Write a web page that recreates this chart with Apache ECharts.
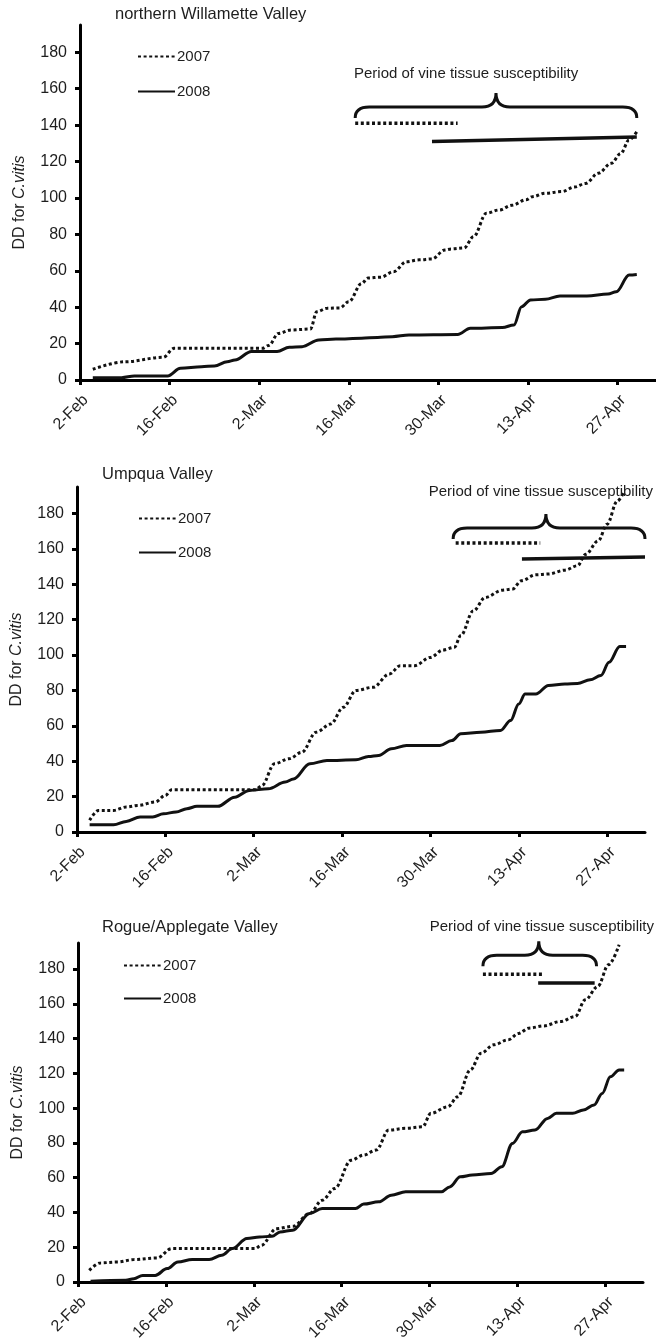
<!DOCTYPE html>
<html>
<head>
<meta charset="utf-8">
<script src="https://cdn.jsdelivr.net/npm/echarts@6/dist/echarts.min.js"></script>
<style>
html, body { margin: 0; padding: 0; background: #fff; }
#chart { width: 656px; height: 1344px; }
</style>
</head>
<body>
<div id="chart"></div>
<script>
// x axis = days after 2-Feb
var xTickDays = [0, 14, 28, 42, 56, 70, 84];
var xTickLabels = ['2-Feb', '16-Feb', '2-Mar', '16-Mar', '30-Mar', '13-Apr', '27-Apr'];
var yTicks = [0, 20, 40, 60, 80, 100, 120, 140, 160, 180];
var years = ['2007', '2008'];
var panelTitles = ['northern Willamette Valley', 'Umpqua Valley', 'Rogue/Applegate Valley'];
var periodText = 'Period of vine tissue susceptibility';

// northern Willamette Valley
var willDays07 = [2, 7, 13, 14.7, 28.5, 29.5, 31, 33, 36, 37, 38.6, 40.6, 42, 44, 45, 47, 49, 51, 53, 55, 57, 58, 60, 61.5, 63.5, 65.5, 67.5, 69.7, 70.7, 72.7, 75.3, 77.3, 79, 81, 83, 84.5, 85.8, 87];
var willDD07 = [5.9, 10, 12.5, 17.4, 17.4, 19, 25.6, 27.5, 28, 37.5, 39.4, 39.6, 43, 53, 56, 56.5, 59.5, 65, 66, 66.5, 71.4, 72, 72.5, 78.8, 91.6, 93.4, 96, 99, 100.7, 102.6, 103.5, 106, 108, 113.6, 119, 124.5, 131.9, 136.4];
var willDays08 = [2, 6.5, 8.5, 13.7, 15.7, 19, 21, 23, 24.2, 26.8, 30.8, 32.7, 34.7, 37.3, 40, 44, 46.5, 48.8, 51.4, 59, 61, 66, 67.8, 69, 70.4, 72.7, 75, 79.2, 82.5, 83.8, 85.8, 87];
var willDD08 = [1.3, 1.3, 2.2, 2.2, 6.4, 7.3, 7.7, 10, 11, 15.6, 15.6, 18, 18.3, 22, 22.5, 22.9, 23.4, 23.8, 24.7, 25, 28.4, 28.8, 30.2, 40.3, 44, 44.3, 46.2, 46.2, 47.3, 48.5, 57.7, 58];

// Umpqua Valley
var umpDays07 = [2, 3.4, 5.8, 7.8, 9.7, 12.4, 14, 15, 28.3, 29.3, 31.3, 33.6, 35.6, 37.9, 40.2, 42.2, 44.2, 46.9, 49.5, 51.2, 53.5, 56, 58, 59.8, 60.8, 62.8, 64.7, 67.4, 69, 70.4, 72.7, 74.7, 77.3, 79.3, 80.6, 82.6, 84, 85.6, 86.6];
var umpDD07 = [6.6, 12.2, 12.2, 14.1, 15, 17, 20.7, 23.9, 23.9, 26.3, 38.6, 41.4, 45, 56.4, 61, 70.5, 80, 81.8, 89.3, 94, 94, 98.7, 102.9, 104.4, 111, 125, 132.6, 136.7, 137.3, 142, 145.4, 145.8, 148, 150.5, 157, 164.6, 174, 187, 191.8];
var umpDays08 = [2, 5.8, 7.8, 10, 12, 13.7, 15.7, 17.4, 19, 22.3, 25, 27.3, 30.3, 33, 34.3, 36.9, 39.6, 44.2, 46.2, 47.8, 49.8, 52.2, 57.5, 59.4, 60.8, 64, 67.1, 68.7, 70, 71, 72.7, 74.7, 77.3, 79.3, 81.3, 83, 84.3, 86, 87];
var umpDD08 = [4.1, 4.1, 6, 8.5, 8.5, 10.3, 11.3, 13.2, 14.5, 14.5, 19.7, 23.5, 24.4, 28.2, 30, 38.6, 40.4, 40.8, 42.7, 43.3, 47, 48.9, 48.9, 51.7, 55.5, 56.4, 57.4, 63, 72.4, 78, 78, 82.8, 83.7, 84, 86, 88.4, 95.9, 104.8, 104.8];

// Rogue/Applegate Valley
var rogDays07 = [1.8, 3.6, 6.3, 8.9, 12.6, 14.9, 28.2, 29.2, 31.6, 34.2, 36.9, 38.9, 40.9, 43.5, 45.5, 47.5, 49.5, 52.2, 54.9, 56.2, 58.9, 60.5, 62.5, 64.2, 66.2, 68.5, 70.2, 71.8, 74.2, 76.8, 79.2, 80.8, 82.8, 84.5, 86.2];
var rogDD07 = [6.7, 11, 11.5, 12.9, 13.8, 19.2, 19.2, 21.1, 30.7, 32, 39.4, 47, 53.8, 70, 73, 75.9, 87.4, 88.4, 89.3, 97, 100.8, 106.6, 122, 131.6, 136.4, 139.3, 143, 146, 147.3, 149.8, 152.7, 162.3, 170, 182.5, 194];
var rogDays08 = [2, 7.6, 8.9, 10.3, 12.3, 14.2, 15.9, 18.2, 20.9, 22.9, 24.6, 26.9, 28.9, 30.9, 32.2, 34.2, 36.9, 38.9, 44.2, 45.5, 47.9, 49.9, 52.2, 57.9, 59.2, 60.9, 62.8, 65.8, 67.5, 69.2, 70.8, 72.8, 74.8, 76.2, 78.8, 80.5, 82.2, 83.5, 84.8, 86.2, 87];
var rogDD08 = [0.5, 1, 1.9, 3.8, 3.8, 7.7, 11.5, 12.9, 12.9, 15.4, 19.2, 25, 25.9, 26.3, 28.8, 29.8, 39.4, 42.3, 42.3, 44.8, 46.1, 49.9, 51.9, 51.9, 54.7, 60.5, 61.5, 62.4, 66.3, 79.7, 86.4, 87.4, 94.1, 97, 97, 98.9, 101.8, 108.5, 118, 122, 122];

// susceptibility periods: [startDay, startDD, endDay, endDD]
var willPeriod07 = [43, 141, 59, 141];
var willPeriod08 = [55, 131, 87, 133.5];
var umpPeriod07 = [60, 163.4, 73.4, 163.4];
var umpPeriod08 = [70.5, 154.3, 90, 155.5];
var rogPeriod07 = [64.5, 177, 74, 177];
var rogPeriod08 = [73.3, 172, 82.3, 172];
// braces: [startDay, endDay, tipDay, DD]
var willBrace = [43, 87, 65, 150];
var umpBrace = [59.6, 90, 74.3, 171.8];
var rogBrace = [64.5, 82.6, 73.4, 188];

var panels = [
    { d07: willDays07, v07: willDD07, d08: willDays08, v08: willDD08, p07: willPeriod07, p08: willPeriod08, brace: willBrace },
    { d07: umpDays07, v07: umpDD07, d08: umpDays08, v08: umpDD08, p07: umpPeriod07, p08: umpPeriod08, brace: umpBrace },
    { d07: rogDays07, v07: rogDD07, d08: rogDays08, v08: rogDD08, p07: rogPeriod07, p08: rogPeriod08, brace: rogBrace }
];

// layout
var grids = [
    { left: 80, top: 25, width: 576, height: 355 },
    { left: 77, top: 487, width: 568, height: 345 },
    { left: 78, top: 943, width: 565, height: 339 }
];
var titlePos = [[115, 6], [102, 466], [102, 919]];
var periodPos = [{ left: 354, top: 66 }, { right: 3, top: 484 }, { right: 2, top: 919 }];
var legendPos = [[137, 49, 20], [138, 511, 19], [123, 958, 18]];

var textColor = '#1e1e1e';
var font = 'Liberation Sans, Arial';
var dotted = [3, 2.6];

function zip(xs, ys) {
    return xs.map(function (x, i) { return [x, ys[i]]; });
}

function braceItem(params, api) {
    var p0 = api.coord([api.value(0), api.value(3)]);
    var p1 = api.coord([api.value(1), api.value(3)]);
    var pt = api.coord([api.value(2), api.value(3)]);
    var y = p0[1], r = 14, hEnd = 11, hTip = 14;
    var d = 'M' + p0[0] + ' ' + (y + hEnd) +
        ' Q' + p0[0] + ' ' + y + ' ' + (p0[0] + r) + ' ' + y +
        ' L' + (pt[0] - r) + ' ' + y +
        ' Q' + pt[0] + ' ' + y + ' ' + pt[0] + ' ' + (y - hTip) +
        ' Q' + pt[0] + ' ' + y + ' ' + (pt[0] + r) + ' ' + y +
        ' L' + (p1[0] - r) + ' ' + y +
        ' Q' + p1[0] + ' ' + y + ' ' + p1[0] + ' ' + (y + hEnd);
    return {
        type: 'path',
        shape: { pathData: d },
        style: { fill: 'none', stroke: '#111', lineWidth: 3 }
    };
}

var titles = [], legends = [], xAxes = [], yAxes = [], series = [];
panels.forEach(function (p, i) {
    titles.push({
        text: panelTitles[i], left: titlePos[i][0], top: titlePos[i][1], padding: 0,
        textStyle: { fontSize: 16.5, fontWeight: 'normal', color: textColor, fontFamily: font }
    });
    titles.push(Object.assign({
        text: periodText, padding: 0,
        textStyle: { fontSize: 15, fontWeight: 'normal', color: textColor, fontFamily: font }
    }, periodPos[i]));
    legends.push({
        data: years, orient: 'vertical', left: legendPos[i][0], top: legendPos[i][1],
        itemGap: legendPos[i][2], itemWidth: 37, itemHeight: 14, padding: 0, selectedMode: false,
        itemStyle: { opacity: 0 },
        textStyle: { fontSize: 15, color: textColor, fontFamily: font, padding: [0, 0, 0, -3] }
    });
    xAxes.push({
        type: 'value', gridIndex: i, min: 0, max: 90,
        axisLine: { lineStyle: { color: '#000', width: 3 } },
        axisTick: { customValues: xTickDays, length: 5, lineStyle: { color: '#000', width: 3 } },
        axisLabel: {
            customValues: xTickDays, rotate: 45, margin: 12, verticalAlign: 'top',
            fontSize: 16, color: textColor, fontFamily: font,
            formatter: function (v) { return xTickLabels[xTickDays.indexOf(v)] || ''; }
        },
        splitLine: { show: false }
    });
    yAxes.push({
        type: 'value', gridIndex: i, min: 0, max: 195,
        name: 'DD for {i|C.vitis}', nameLocation: 'middle', nameGap: 52,
        nameTextStyle: {
            fontSize: 16, color: textColor, fontFamily: font,
            rich: { i: { fontSize: 16, fontStyle: 'italic', color: textColor, fontFamily: font } }
        },
        axisLine: { show: true, lineStyle: { color: '#000', width: 3 } },
        axisTick: { show: true, customValues: yTicks, length: 5, lineStyle: { color: '#000', width: 3 } },
        axisLabel: { customValues: yTicks, margin: 13, fontSize: 16, color: textColor, fontFamily: font },
        splitLine: { show: false }
    });
    series.push({
        name: '2007', type: 'line', xAxisIndex: i, yAxisIndex: i, data: zip(p.d07, p.v07),
        showSymbol: false, symbol: 'none', smooth: 0.35, smoothMonotone: 'x',
        lineStyle: { color: '#111', width: 3, type: dotted }, itemStyle: { color: '#111' }
    });
    series.push({
        name: '2008', type: 'line', xAxisIndex: i, yAxisIndex: i, data: zip(p.d08, p.v08),
        showSymbol: false, symbol: 'none', smooth: 0.35, smoothMonotone: 'x',
        lineStyle: { color: '#111', width: 3, type: 'solid' }, itemStyle: { color: '#111' }
    });
    series.push({
        name: 'period 2007', type: 'line', xAxisIndex: i, yAxisIndex: i, symbol: 'none',
        data: [[p.p07[0], p.p07[1]], [p.p07[2], p.p07[3]]],
        lineStyle: { color: '#111', width: 3.5, type: dotted }
    });
    series.push({
        name: 'period 2008', type: 'line', xAxisIndex: i, yAxisIndex: i, symbol: 'none',
        data: [[p.p08[0], p.p08[1]], [p.p08[2], p.p08[3]]],
        lineStyle: { color: '#111', width: 3.5 }
    });
    series.push({
        name: 'brace', type: 'custom', xAxisIndex: i, yAxisIndex: i, clip: false,
        renderItem: braceItem, encode: { x: [0, 1, 2], y: 3 },
        data: [p.brace]
    });
});

var chart = echarts.init(document.getElementById('chart'), null, { renderer: 'canvas' });
chart.setOption({
    animation: false,
    backgroundColor: '#fff',
    title: titles,
    legend: legends,
    grid: grids,
    xAxis: xAxes,
    yAxis: yAxes,
    series: series
});
</script>
</body>
</html>
